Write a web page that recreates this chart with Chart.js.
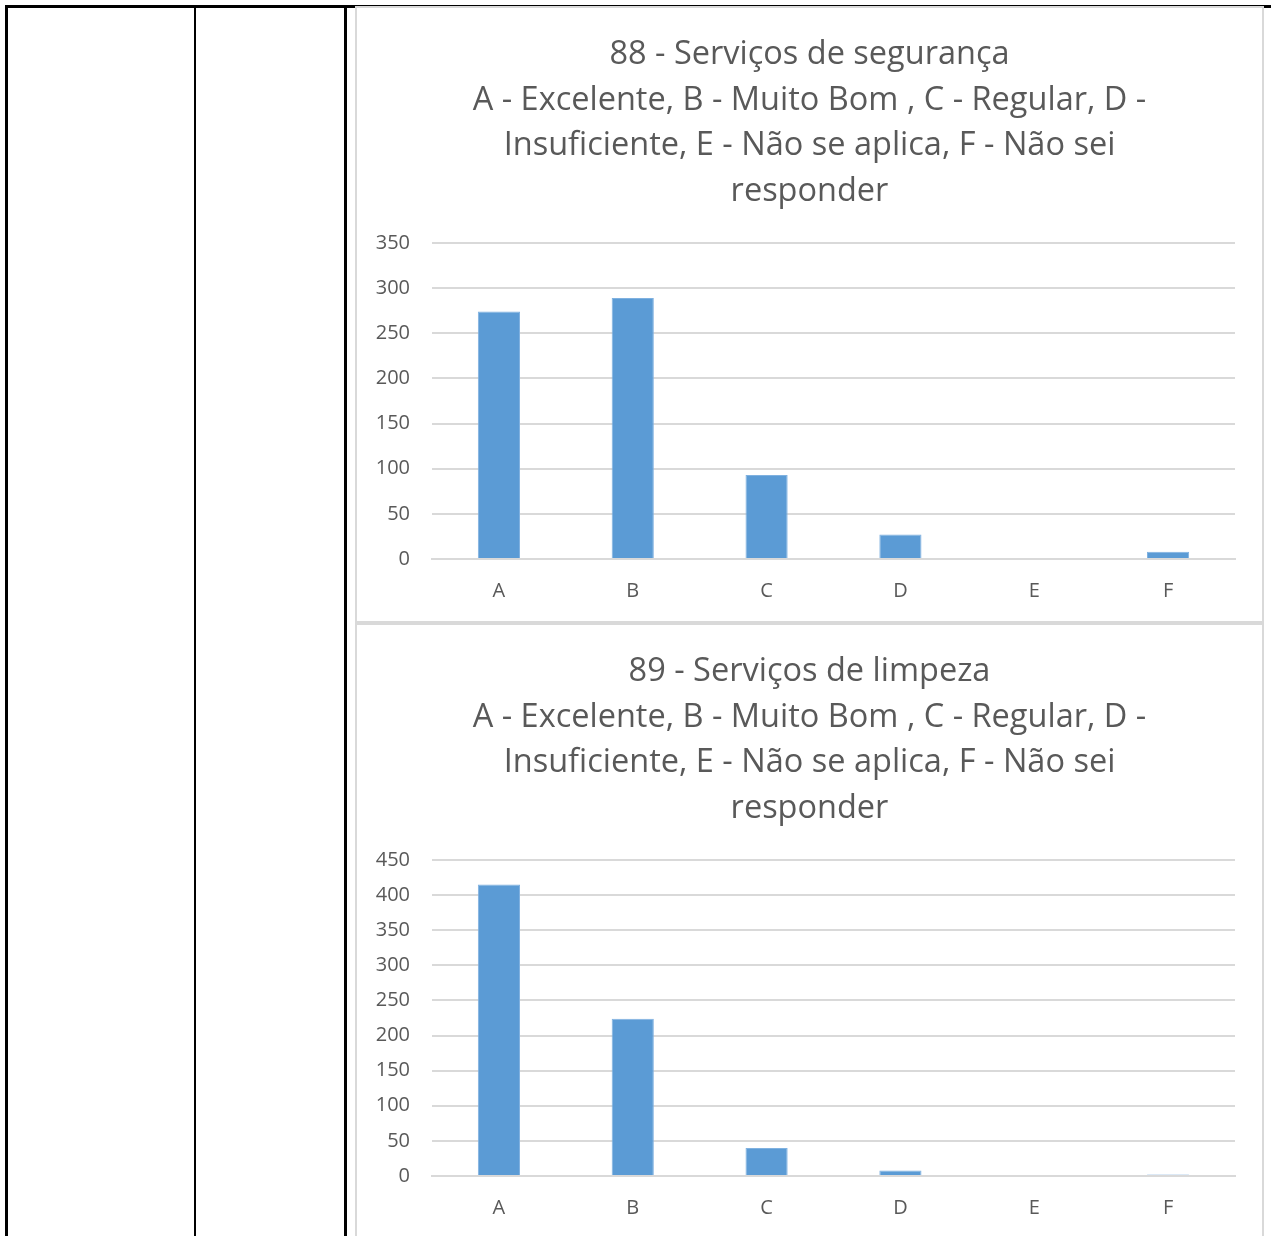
<!DOCTYPE html>
<html>
<head>
<meta charset="utf-8">
<script src="https://cdn.jsdelivr.net/npm/chart.js@4/dist/chart.umd.min.js"></script>
<style>
  body { margin: 0; background: #fff; width: 1271px; height: 1236px; overflow: hidden; position: relative; }
  .line { position: absolute; background: #000; }
  .box { position: absolute; border: 2px solid #d9d9d9; background: #fff; }
  .box canvas { display: block; }
</style>
</head>
<body>
<div class="line" style="left:5px; top:5px; width:1266px; height:3px;"></div>
<div class="line" style="left:5px; top:5px; width:3px; height:1231px;"></div>
<div class="line" style="left:194px; top:5px; width:2px; height:1231px;"></div>
<div class="line" style="left:344px; top:5px; width:3px; height:1231px;"></div>

<div class="box" style="left:355px; top:6px; width:905px; height:613px;"><canvas id="chart88"></canvas></div>
<div class="box" style="left:355px; top:623px; width:905px; height:613px;"><canvas id="chart89"></canvas></div>

<script>
// categorias
const categorias = ['A', 'B', 'C', 'D', 'E', 'F'];

// 88 - segurança
const titulo88 = ['88 - Serviços de segurança',
    'A - Excelente, B - Muito Bom , C - Regular, D -',
    'Insuficiente, E - Não se aplica, F - Não sei',
    'responder'];
const valores88 = [274, 289, 93, 27, 0, 8];
const max88 = 350;
const passo88 = 50;

// 89 - limpeza
const titulo89 = ['89 - Serviços de limpeza',
    'A - Excelente, B - Muito Bom , C - Regular, D -',
    'Insuficiente, E - Não se aplica, F - Não sei',
    'responder'];
const valores89 = [415, 224, 40, 8, 0, 2];
const max89 = 450;
const passo89 = 50;

const cinza = '#595959';
const corBarra = '#5b9bd5';

function criarGrafico(id, titulo, valores, max, passo) {
    let canvas = document.getElementById(id);
    canvas.width = 905;
    canvas.height = 613;
    return new Chart(canvas.getContext('2d'), {
        type: 'bar',
        data: {
            labels: categorias,
            datasets: [{
                data: valores,
                backgroundColor: corBarra,
                borderColor: '#7fb1e0',
                borderWidth: 1,
                barPercentage: 0.63,
                categoryPercentage: 0.5
            }]
        },
        options: {
            responsive: false,
            animation: false,
            layout: { padding: { left: 0, right: 0, top: 24, bottom: 6 } },
            plugins: {
                legend: { display: false },
                tooltip: { enabled: false },
                title: {
                    display: true,
                    text: titulo,
                    color: cinza,
                    font: { family: 'Open Sans', size: 32.5, weight: 'normal', lineHeight: 1.4 },
                    padding: { top: 0, bottom: 29 }
                }
            },
            scales: {
                x: {
                    grid: { display: false },
                    border: { display: true, color: '#d9d9d9', width: 2 },
                    ticks: { color: cinza, font: { family: 'Open Sans', size: 20 }, padding: 12 }
                },
                y: {
                    min: 0,
                    max: max,
                    afterFit: function (scale) { scale.width = 75; },
                    grid: { color: '#d9d9d9', lineWidth: 2, drawTicks: false },
                    border: { display: false },
                    ticks: { stepSize: passo, color: cinza, font: { family: 'Open Sans', size: 20 }, padding: 22 }
                },
                // eixo vazio à direita, só para dar margem
                margem: {
                    type: 'linear',
                    position: 'right',
                    afterFit: function (scale) { scale.width = 27; },
                    grid: { display: false, drawTicks: false },
                    border: { display: false },
                    ticks: { display: false }
                }
            }
        }
    });
}

criarGrafico('chart88', titulo88, valores88, max88, passo88);
criarGrafico('chart89', titulo89, valores89, max89, passo89);
</script>
</body>
</html>
